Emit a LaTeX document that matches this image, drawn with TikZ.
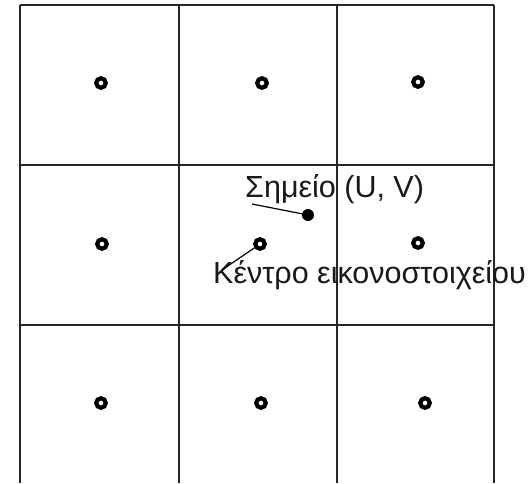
\documentclass[tikz,border=0pt]{standalone}
\usepackage{fontspec}
\setmainfont{Liberation Sans}
\begin{document}
\begin{tikzpicture}[x=1pt,y=-1pt,
  gridline/.style={line width=2.2pt,draw=black!85},
  ring/.style={circle,draw=black,line width=4.2pt,minimum size=9.5pt,inner sep=0pt},
  pointdot/.style={circle,fill=black,minimum size=12pt,inner sep=0pt},
  lbl/.style={font=\fontsize{30.5}{30.5}\selectfont,inner sep=0pt,text=black!90},
  leader/.style={line width=1.2pt,draw=black}]
\useasboundingbox (0,0) rectangle (531,483);
\fill[white] (0,0) rectangle (531,483);
% grid
\foreach \x in {20,179,337,494} \draw[gridline] (\x,5) -- (\x,483);
\foreach \y in {5,165,325} \draw[gridline] (20,\y) -- (494,\y);
% pixel centres
\node[ring] (c11) at (101,83) {};
\node[ring] (c12) at (262,83) {};
\node[ring] (c13) at (418,82) {};
\node[ring] (c21) at (102,244) {};
\node[ring] (c22) at (260,244) {};
\node[ring] (c23) at (418,243) {};
\node[ring] (c31) at (101,403) {};
\node[ring] (c32) at (261,403) {};
\node[ring] (c33) at (425,403) {};
% sample point
\node[pointdot] (uv) at (308,215) {};
% labels
\node[lbl,anchor=base west] (tuv) at (245,197) {Σημείο (U, V)};
\node[lbl,anchor=base west] (tcen) at (213,283) {Κέντρο εικονοστοιχείου};
\coordinate (luv) at (252,204);
\coordinate (lcen) at (222,270);
\draw[leader] (uv) -- (luv);
\draw[leader] (c22) -- (lcen);
\end{tikzpicture}
\end{document}
